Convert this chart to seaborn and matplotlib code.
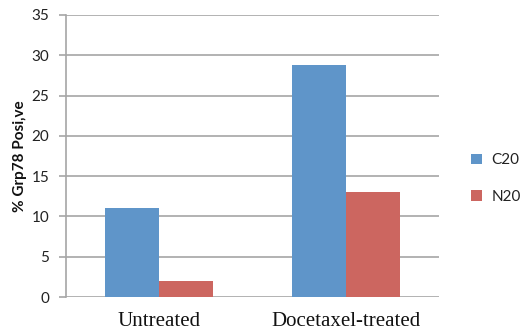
import matplotlib
matplotlib.use("Agg")
import matplotlib.pyplot as plt
import seaborn as sns
import pandas as pd

# Data
treatments = ["Untreated", "Docetaxel-treated"]
antibodies = ["C20", "N20"]
c20_values = [11.0, 28.8]
n20_values = [2.0, 13.0]
y_ticks = [0, 5, 10, 15, 20, 25, 30, 35]

df = pd.DataFrame({
    "treatment": treatments * 2,
    "antibody": ["C20"] * len(treatments) + ["N20"] * len(treatments),
    "value": c20_values + n20_values,
})

sns.set_theme(style="white")
plt.rcParams["font.family"] = ["Lato", "DejaVu Sans"]

grid_col = "#a6a6a6"
palette = {"C20": "#5f95c9", "N20": "#cc6660"}

fig = plt.figure(figsize=(5.2, 3.33), dpi=100)
ax = fig.add_axes([0.127, 0.108, 0.717, 0.847])

sns.barplot(data=df, x="treatment", y="value", hue="antibody",
            order=treatments, hue_order=antibodies, palette=palette,
            width=0.58, gap=0, saturation=1, errorbar=None, ax=ax,
            linewidth=0, zorder=3)

ax.set_ylim(0, 35)
ax.set_yticks(y_ticks)
ax.set_yticklabels([str(t) for t in y_ticks], fontsize=11, color="#222222")
ax.yaxis.grid(True, color=grid_col, linewidth=1.2, zorder=0)
ax.set_axisbelow(True)
ax.set_xlim(-0.5, 1.5)

for side in ["top", "right", "bottom"]:
    ax.spines[side].set_visible(False)
ax.spines["left"].set_color(grid_col)
ax.spines["left"].set_linewidth(1.2)

ax.tick_params(axis="y", which="both", left=True, length=5, width=1.2,
               color=grid_col, pad=7)
ax.tick_params(axis="x", bottom=False, pad=5)
for lbl in ax.get_xticklabels():
    lbl.set_fontfamily(["Liberation Serif", "DejaVu Serif"])
    lbl.set_fontsize(15)
    lbl.set_color("#111111")

ax.set_xlabel("")
ax.set_ylabel("% Grp78 Posi\u201ave", fontsize=11, fontweight="bold",
              color="#111111", labelpad=3)

leg = ax.legend(loc="center left", bbox_to_anchor=(1.05, 0.42), frameon=False,
                fontsize=11, handlelength=0.7, handleheight=0.7,
                labelspacing=1.45, handletextpad=0.6)
for t in leg.get_texts():
    t.set_color("#222222")

fig.savefig("out.png", dpi=100)
